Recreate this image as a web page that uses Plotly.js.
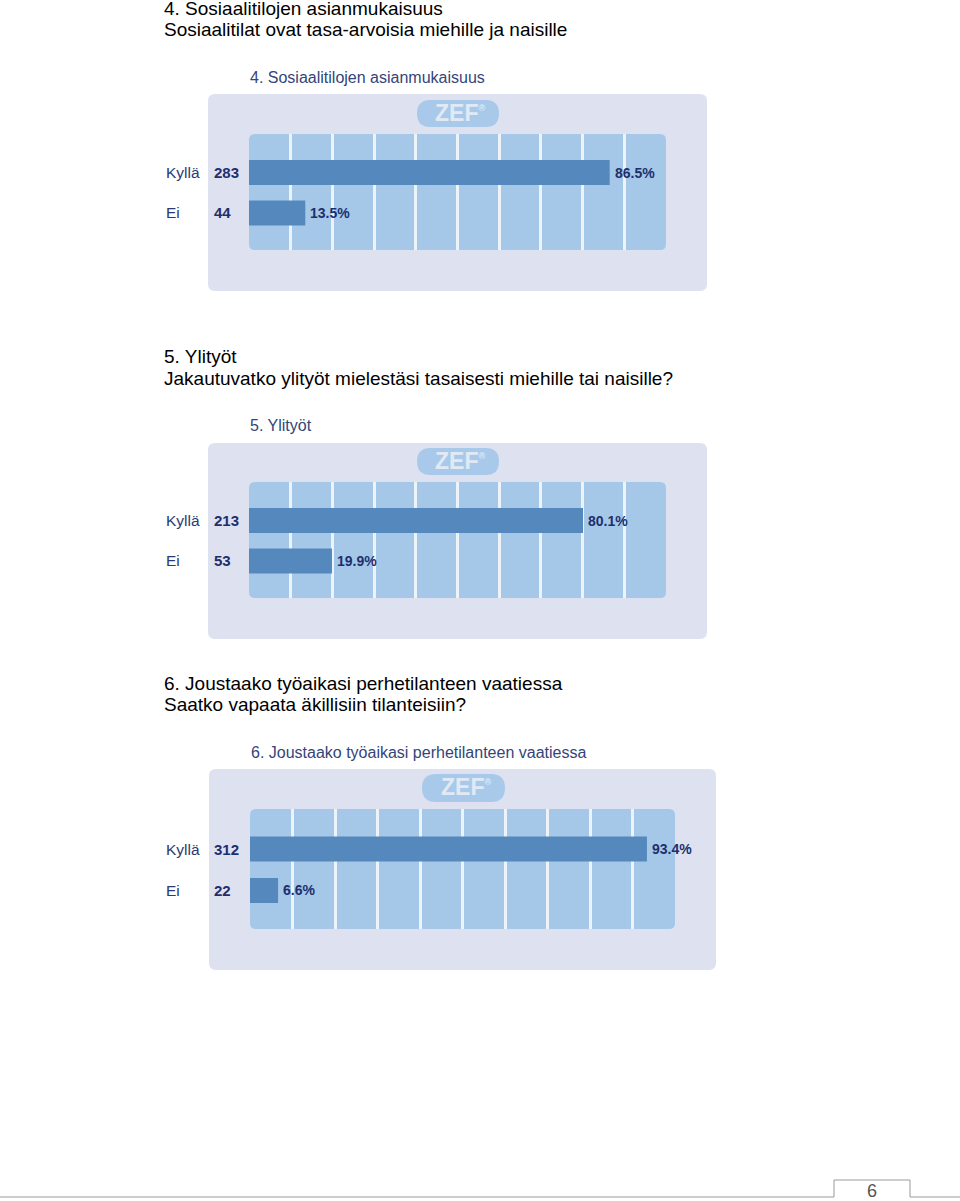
<!DOCTYPE html>
<html>
<head>
<meta charset="utf-8">
<script src="https://cdn.plot.ly/plotly-3.0.1.min.js"></script>
<style>
  html, body { margin: 0; padding: 0; background: #ffffff; }
  #chart { width: 960px; height: 1201px; }
</style>
</head>
<body>
<div id="chart"></div>
<script>
// ---------- data ----------
const categories = ["Kyllä", "Ei"];
const categoryOrder = ["Ei", "Kyllä"];

const headingLines4 = ["4. Sosiaalitilojen asianmukaisuus", "Sosiaalitilat ovat tasa-arvoisia miehille ja naisille"];
const headingLines5 = ["5. Ylityöt", "Jakautuvatko ylityöt mielestäsi tasaisesti miehille tai naisille?"];
const headingLines6 = ["6. Joustaako työaikasi perhetilanteen vaatiessa", "Saatko vapaata äkillisiin tilanteisiin?"];

const chartTitle4 = "4. Sosiaalitilojen asianmukaisuus";
const chartTitle5 = "5. Ylityöt";
const chartTitle6 = "6. Joustaako työaikasi perhetilanteen vaatiessa";

const counts4 = [283, 44];
const percents4 = [86.5, 13.5];
const counts5 = [213, 53];
const percents5 = [80.1, 19.9];
const counts6 = [312, 22];
const percents6 = [93.4, 6.6];

const pageNumber = "6";
const brandText = "ZEF<sup><span style=\"font-size:9px\">®</span></sup>";

// ---------- geometry helpers ----------
const W = 960, H = 1201;
const X = px => px / W;
const Y = py => 1 - py / H;

function roundRect(x0, y0, x1, y1, r) {
  const rx = r / W, ry = r / H;
  const a = X(x0), b = X(x1), top = Y(y0), bot = Y(y1);
  return `M ${a + rx} ${top} L ${b - rx} ${top} Q ${b} ${top} ${b} ${top - ry} ` +
         `L ${b} ${bot + ry} Q ${b} ${bot} ${b - rx} ${bot} ` +
         `L ${a + rx} ${bot} Q ${a} ${bot} ${a} ${bot + ry} ` +
         `L ${a} ${top - ry} Q ${a} ${top} ${a + rx} ${top} Z`;
}

const FONT = "Liberation Sans, Arial, sans-serif";
const COL_PANEL = "#dde1f0";
const COL_INNER = "#a5c7e8";
const COL_BAR = "#5589be";
const COL_GRID = "#eef3fa";
const COL_PILL = "#a9c9ea";
const COL_LABEL = "#2b3b72";
const COL_NUM = "#1d2f6e";
const COL_TITLE = "#34457a";

const charts = [
  { ax: "", headings: headingLines4, headY: [9, 30], title: chartTitle4, titleY: 77,
    panel: [208, 94, 707, 291], inner: [249, 134, 666, 250], pill: [417, 100, 499, 127],
    yRange: [-0.914, 1.951], barW: 0.617, counts: counts4, pcts: percents4 },
  { ax: "2", headings: headingLines5, headY: [356, 378], title: chartTitle5, titleY: 426,
    panel: [208, 443, 707, 639], inner: [249, 482, 666, 598], pill: [417, 448, 499, 475],
    yRange: [-0.914, 1.951], barW: 0.617, counts: counts5, pcts: percents5 },
  { ax: "3", headings: headingLines6, headY: [683, 705], title: chartTitle6, titleY: 752,
    panel: [209, 769, 716, 970], inner: [250, 809, 675, 929], pill: [422, 774, 505, 802],
    yRange: [-0.928, 1.964], barW: 0.602, counts: counts6, pcts: percents6 }
];

const data = [];
const shapes = [];
const annotations = [];
const layout = {
  width: W, height: H,
  margin: { l: 0, r: 0, t: 0, b: 0 },
  paper_bgcolor: "#ffffff",
  plot_bgcolor: "rgba(0,0,0,0)",
  showlegend: false,
  font: { family: FONT },
  bargap: 0.38
};

charts.forEach(c => {
  const xa = "x" + c.ax, ya = "y" + c.ax;
  const xKey = "xaxis" + c.ax, yKey = "yaxis" + c.ax;

  data.push({
    type: "bar", orientation: "h",
    x: c.pcts, y: categories,
    xaxis: xa, yaxis: ya,
    width: c.barW,
    marker: { color: COL_BAR, line: { width: 0 } },
    hoverinfo: "skip"
  });

  layout[xKey] = {
    domain: [X(c.inner[0]), X(c.inner[2])],
    range: [0, 100], anchor: ya,
    tickmode: "array", tickvals: [10, 20, 30, 40, 50, 60, 70, 80, 90],
    showticklabels: false, ticks: "",
    showgrid: true, gridcolor: COL_GRID, gridwidth: 3,
    zeroline: false, showline: false, fixedrange: true
  };
  layout[yKey] = {
    domain: [Y(c.inner[3]), Y(c.inner[1])],
    type: "category", categoryorder: "array", categoryarray: categoryOrder,
    range: c.yRange, anchor: xa,
    showticklabels: false, ticks: "", showgrid: false,
    zeroline: false, showline: false, fixedrange: true
  };

  // panel, inner area, pill
  shapes.push({ type: "path", xref: "paper", yref: "paper", layer: "below",
    path: roundRect(c.panel[0], c.panel[1], c.panel[2], c.panel[3], 7),
    fillcolor: COL_PANEL, line: { width: 0 } });
  shapes.push({ type: "path", xref: "paper", yref: "paper", layer: "below",
    path: roundRect(c.inner[0], c.inner[1], c.inner[2], c.inner[3], 6),
    fillcolor: COL_INNER, line: { width: 0 } });
  const ph = c.pill[3] - c.pill[1];
  shapes.push({ type: "path", xref: "paper", yref: "paper", layer: "below",
    path: roundRect(c.pill[0], c.pill[1], c.pill[2], c.pill[3], ph / 2),
    fillcolor: COL_PILL, line: { width: 0 } });

  annotations.push({ xref: "paper", yref: "paper",
    x: X((c.pill[0] + c.pill[2]) / 2 + 2), y: Y((c.pill[1] + c.pill[3]) / 2 - 1),
    xanchor: "center", yanchor: "middle", showarrow: false,
    text: brandText,
    font: { family: FONT, size: 23, color: "#e1e9f5", weight: "bold" } });

  // page headings
  c.headings.forEach((t, i) => {
    annotations.push({ xref: "paper", yref: "paper", x: X(162), y: Y(c.headY[i]),
      xanchor: "left", yanchor: "middle", showarrow: false, text: t,
      font: { family: FONT, size: 19, color: "#000000" } });
  });

  // chart title
  annotations.push({ xref: "paper", yref: "paper", x: X(c.inner[0] - 1), y: Y(c.titleY),
    xanchor: "left", yanchor: "middle", showarrow: false, text: c.title,
    font: { family: FONT, size: 16, color: COL_TITLE } });

  // category labels, counts, percents
  categories.forEach((cat, i) => {
    annotations.push({ xref: "paper", yref: ya, x: X(164), y: cat,
      xanchor: "left", yanchor: "middle", showarrow: false, text: cat,
      font: { family: FONT, size: 15.5, color: COL_LABEL } });
    annotations.push({ xref: "paper", yref: ya, x: X(212), y: cat,
      xanchor: "left", yanchor: "middle", showarrow: false, text: String(c.counts[i]),
      font: { family: FONT, size: 15, color: COL_NUM, weight: "bold" } });
    annotations.push({ xref: xa, yref: ya, x: c.pcts[i], y: cat, xshift: 3,
      xanchor: "left", yanchor: "middle", showarrow: false, text: c.pcts[i].toFixed(1) + "%",
      font: { family: FONT, size: 14, color: COL_NUM, weight: "bold" } });
  });
});

// footer page tab
shapes.push({ type: "path", xref: "paper", yref: "paper", layer: "above",
  path: `M 0 ${Y(1197)} L ${X(834)} ${Y(1197)} L ${X(834)} ${Y(1180)} L ${X(910)} ${Y(1180)} L ${X(910)} ${Y(1197)} L 1 ${Y(1197)}`,
  line: { color: "#9a9a9a", width: 1 } });
annotations.push({ xref: "paper", yref: "paper", x: X(872), y: Y(1191),
  xanchor: "center", yanchor: "middle", showarrow: false, text: pageNumber,
  font: { family: FONT, size: 18, color: "#555555" } });

layout.shapes = shapes;
layout.annotations = annotations;

Plotly.newPlot("chart", data, layout, { displayModeBar: false, staticPlot: true });
</script>
</body>
</html>
